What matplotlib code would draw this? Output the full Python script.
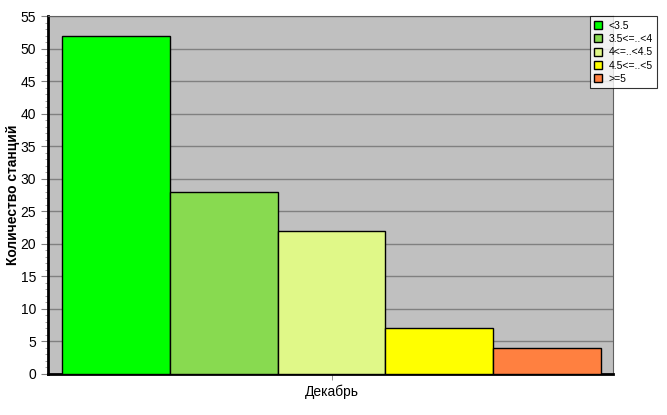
import matplotlib
matplotlib.use("Agg")
import matplotlib.pyplot as plt
from matplotlib.ticker import MultipleLocator

plt.rcParams["font.family"] = ["Liberation Sans", "DejaVu Sans"]

CATEGORIES = ["<3.5", "3.5<=..<4", "4<=..<4.5", "4.5<=..<5", ">=5"]
COUNTS = [52, 28, 22, 7, 4]
COLORS = ["#00FF00", "#88DA50", "#E0F888", "#FFFF00", "#FF8040"]
MONTH = "Декабрь"

fig = plt.figure(figsize=(6.67, 4.15), dpi=100)
ax = fig.add_axes([0.072, 0.099, 0.847, 0.862])
ax.set_facecolor("#C0C0C0")

for i, (cat, cnt, col) in enumerate(zip(CATEGORIES, COUNTS, COLORS)):
    ax.bar(i, cnt, width=1.0, color=col, edgecolor="black", linewidth=1.0,
           label=cat, zorder=3)

ax.set_xlim(-0.63, 4.61)
ax.set_ylim(0, 55)
ax.yaxis.set_major_locator(MultipleLocator(5))
ax.yaxis.set_minor_locator(MultipleLocator(1))
ax.grid(axis="y", color="#808080", linewidth=1.0, zorder=1)
ax.set_xticks([2])
ax.set_xticklabels([MONTH], fontsize=10)
ax.tick_params(axis="y", which="major", labelsize=10, length=5, width=0.8,
               colors="#808080", labelcolor="black")
ax.tick_params(axis="y", which="minor", length=2, width=0.5, colors="#808080")
ax.tick_params(axis="x", length=4, width=0.6, colors="#808080", labelcolor="black")
ax.set_ylabel("Количество станций", fontsize=10, fontweight="bold")
ax.yaxis.set_label_coords(-0.05, 0.5)

for side in ("left", "bottom"):
    ax.spines[side].set_linewidth(2.0)
for side in ("top", "right"):
    ax.spines[side].set_linewidth(0.8)
    ax.spines[side].set_color("#606060")

leg = fig.legend(loc="upper left", bbox_to_anchor=(0.876, 0.973), fontsize=7.5,
                 frameon=True, fancybox=False, edgecolor="black",
                 handlelength=0.8, handleheight=0.8, handletextpad=0.6,
                 labelspacing=0.32, borderpad=0.4)
leg.get_frame().set_linewidth(0.8)

fig.savefig("out.png", dpi=100)
